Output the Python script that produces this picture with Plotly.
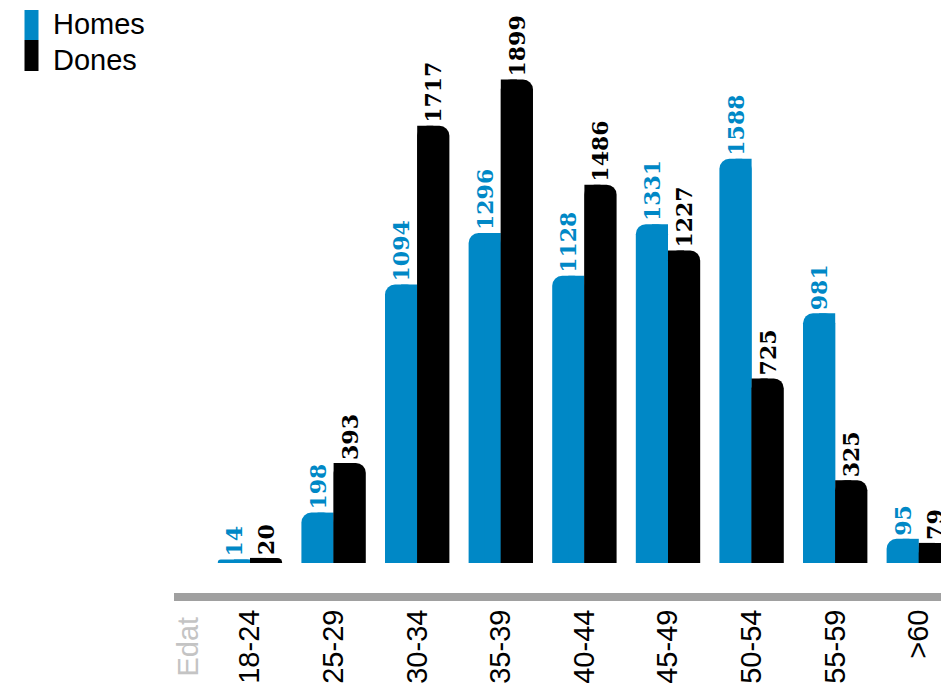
import plotly.graph_objects as go

# Age groups and counts per gender
age_groups = ["18-24", "25-29", "30-34", "35-39", "40-44", "45-49", "50-54", "55-59", ">60"]
men = [14, 198, 1094, 1296, 1128, 1331, 1588, 981, 95]
women = [20, 393, 1717, 1899, 1486, 1227, 725, 325, 79]
series_names = ["Homes", "Dones"]
axis_title = "Edat"

BLUE = "#0088c6"
BLACK = "#000000"

W, H = 941, 689
ML, MB = 174, 96
plot_w, plot_h = W - ML, H - MB

bar_w = 0.385          # width of one bar in category units
radius = 10            # rounded outer corner, px

label_font = dict(family="DejaVu Serif", size=22, weight="bold")
sans = "Liberation Sans, Arial, sans-serif"

fig = go.Figure()

def add_series(values, color, offset, inner_offset, name):
    # rounded bar carrying the value label
    fig.add_trace(go.Bar(
        x=age_groups, y=values, name=name,
        width=bar_w, offset=offset,
        marker=dict(color=color, cornerradius=radius, line=dict(width=0)),
        text=[str(v) for v in values], textposition="outside",
        textangle=-90, constraintext="none", cliponaxis=False,
        textfont=dict(color=color, **label_font),
        showlegend=False,
    ))
    # square half on the inner side so only the outer top corner is rounded
    fig.add_trace(go.Bar(
        x=age_groups, y=values, name=name,
        width=bar_w / 2, offset=inner_offset,
        marker=dict(color=color, line=dict(width=0)),
        hoverinfo="skip", showlegend=False,
    ))

add_series(men, BLUE, -bar_w, -bar_w / 2, series_names[0])
add_series(women, BLACK, 0, 0, series_names[1])

px_per_cat = 83.6
first_center = 250
x_lo = (ML - first_center) / px_per_cat
x_hi = x_lo + plot_w / px_per_cat

px_per_unit = 0.2546
base_px = 563  # pixel row of zero
y_lo = -(H - MB - base_px) / px_per_unit
y_hi = base_px / px_per_unit

fig.update_layout(
    width=W, height=H,
    margin=dict(l=ML, r=0, t=0, b=MB, pad=0),
    paper_bgcolor="white", plot_bgcolor="white",
    barmode="overlay",
    showlegend=False,
    xaxis=dict(
        range=[x_lo, x_hi], showgrid=False, zeroline=False,
        showline=True, linecolor="#a0a0a0", linewidth=8,
        ticks="", tickangle=-90, ticklabelstandoff=-3,
        automargin=False,
        tickfont=dict(family=sans, size=29, color="#000000"),
    ),
    yaxis=dict(range=[y_lo, y_hi], visible=False, automargin=False),
)

def px_x(p):
    return (p - ML) / plot_w

def px_y(p):
    return (H - MB - p) / plot_h

# axis caption
fig.add_annotation(
    text=axis_title, xref="paper", yref="paper",
    x=px_x(187.5), y=px_y(647), textangle=-90, showarrow=False,
    font=dict(family=sans, size=29, color="#c4c4c4"),
    xanchor="center", yanchor="middle",
)

# legend
legend_items = [(series_names[0], BLUE, 10, 40, 24), (series_names[1], BLACK, 40, 71, 60)]
for name, color, y0, y1, ty in legend_items:
    fig.add_shape(type="rect", xref="paper", yref="paper",
                  x0=px_x(24.5), x1=px_x(38.5), y0=px_y(y1), y1=px_y(y0),
                  fillcolor=color, line=dict(width=0))
    fig.add_annotation(text=name, xref="paper", yref="paper",
                       x=px_x(51), y=px_y(ty), showarrow=False,
                       xanchor="left", yanchor="middle",
                       font=dict(family=sans, size=29, color="#000000"))

fig.write_html("out.html")
